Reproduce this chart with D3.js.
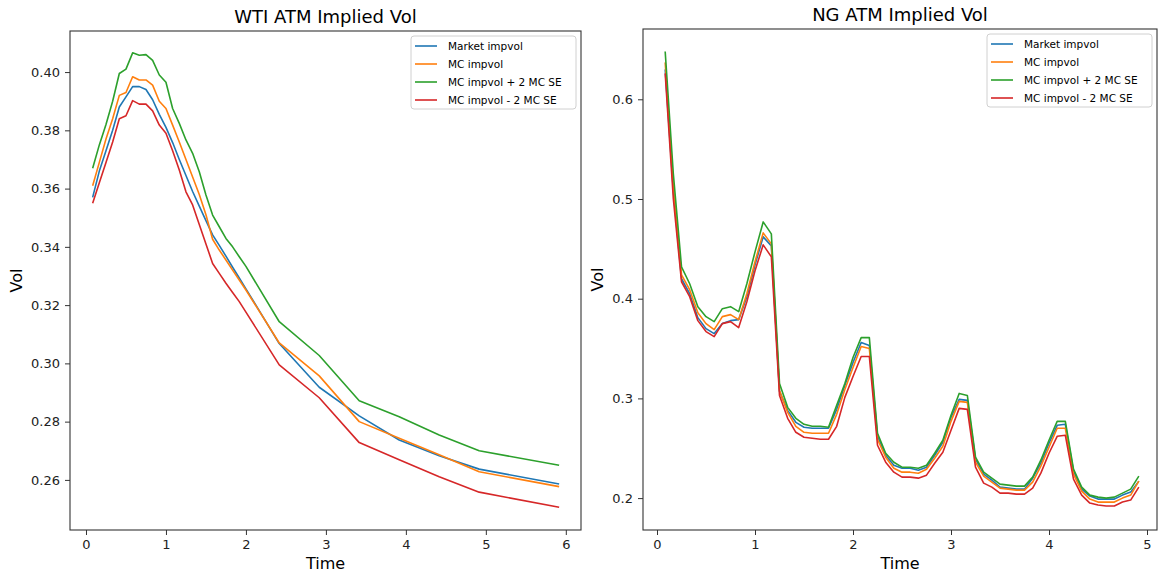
<!DOCTYPE html>
<html>
<head>
<meta charset="utf-8">
<script src="https://cdn.jsdelivr.net/npm/d3@7/dist/d3.min.js"></script>
<style>
  body { margin: 0; background: #fff; }
  svg { font-family: "DejaVu Sans", sans-serif; }
</style>
</head>
<body>
<svg id="chart" width="1159" height="577"></svg>
<script>
// series names + colours (matplotlib tab10)
var seriesNames = ["Market impvol", "MC impvol", "MC impvol + 2 MC SE", "MC impvol - 2 MC SE"];
var seriesColors = ["#1f77b4", "#ff7f0e", "#2ca02c", "#d62728"];

// WTI: monthly to 2y, then every 6 months
var wtiMonths = [1,2,3,4,5,6,7,8,9,10,11,12,13,14,15,16,17,18,19,20,21,22,23,24,29,35,41,47,53,59,71];
var wtiMarket = [0.357,0.366,0.373,0.380,0.388,0.3915,0.395,0.395,0.394,0.3905,0.3855,0.381,0.3758,0.370,0.3645,0.359,0.354,0.349,0.3441,0.3405,0.3368,0.333,0.3293,0.3256,0.3068,0.2918,0.2820,0.2737,0.2683,0.2637,0.2586];
var wtiMC = [0.361,0.369,0.377,0.384,0.392,0.393,0.3984,0.3973,0.3973,0.3955,0.390,0.3875,0.3818,0.376,0.370,0.364,0.358,0.351,0.3426,0.3389,0.3355,0.332,0.3286,0.3252,0.3070,0.2957,0.2800,0.2743,0.2686,0.2628,0.2577];
var wtiUpper = [0.367,0.375,0.382,0.390,0.3995,0.401,0.4066,0.4058,0.406,0.404,0.399,0.3965,0.3875,0.3824,0.3767,0.3721,0.3658,0.3578,0.3509,0.3469,0.3429,0.340,0.3366,0.3333,0.3143,0.3027,0.2872,0.2817,0.2754,0.2700,0.2650];
var wtiLower = [0.355,0.362,0.369,0.376,0.384,0.385,0.3902,0.389,0.389,0.3867,0.3818,0.379,0.373,0.3664,0.3589,0.3544,0.3477,0.3410,0.3343,0.3309,0.3275,0.3243,0.3212,0.3176,0.2995,0.2882,0.2728,0.2669,0.2611,0.2558,0.2506];

// NG: monthly, 1..59
var ngMonths = d3.range(1, 60);
var ngMarket = [0.630,0.508,0.420,0.405,0.381,0.370,0.365,0.375,0.378,0.379,0.402,0.434,0.462,0.453,0.307,0.288,0.276,0.271,0.270,0.270,0.270,0.289,0.313,0.336,0.356,0.353,0.262,0.243,0.233,0.230,0.230,0.228,0.231,0.243,0.256,0.281,0.299,0.298,0.239,0.224,0.218,0.211,0.210,0.209,0.209,0.220,0.235,0.255,0.273,0.274,0.227,0.209,0.202,0.199,0.199,0.199,0.203,0.206,0.217];
var ngMC = [0.637,0.512,0.424,0.409,0.386,0.375,0.369,0.382,0.384,0.379,0.405,0.437,0.466,0.455,0.308,0.286,0.272,0.266,0.265,0.265,0.265,0.284,0.309,0.331,0.352,0.350,0.259,0.241,0.230,0.226,0.226,0.225,0.229,0.240,0.252,0.277,0.297,0.296,0.236,0.222,0.216,0.210,0.209,0.208,0.208,0.216,0.232,0.251,0.270,0.270,0.224,0.207,0.199,0.196,0.196,0.196,0.200,0.203,0.217];
var ngUpper = [0.648,0.525,0.432,0.415,0.392,0.382,0.377,0.390,0.392,0.387,0.415,0.447,0.477,0.465,0.315,0.291,0.280,0.274,0.272,0.272,0.271,0.293,0.315,0.341,0.361,0.361,0.265,0.245,0.236,0.231,0.231,0.230,0.233,0.245,0.258,0.283,0.305,0.303,0.241,0.226,0.220,0.214,0.213,0.212,0.212,0.221,0.238,0.258,0.277,0.277,0.229,0.211,0.203,0.201,0.200,0.201,0.205,0.209,0.222];
var ngLower = [0.626,0.500,0.417,0.402,0.378,0.367,0.362,0.375,0.377,0.371,0.397,0.428,0.454,0.442,0.303,0.280,0.266,0.261,0.260,0.259,0.259,0.272,0.301,0.322,0.342,0.342,0.253,0.236,0.226,0.221,0.221,0.220,0.223,0.235,0.246,0.268,0.290,0.289,0.231,0.215,0.211,0.205,0.205,0.204,0.204,0.210,0.225,0.245,0.262,0.263,0.219,0.203,0.195,0.193,0.192,0.192,0.196,0.198,0.211];

var wtiTicksX = [0, 1, 2, 3, 4, 5, 6];
var wtiTicksY = [0.26, 0.28, 0.30, 0.32, 0.34, 0.36, 0.38, 0.40];
var ngTicksX = [0, 1, 2, 3, 4, 5];
var ngTicksY = [0.2, 0.3, 0.4, 0.5, 0.6];

var svg = d3.select("#chart");

function panel(opt) {
    var x = d3.scaleLinear().domain(opt.xDomain).range([opt.left, opt.right]);
    var y = d3.scaleLinear().domain(opt.yDomain).range([opt.bottom, opt.top]);
    var g = svg.append("g");

    g.append("g")
        .attr("transform", "translate(0," + opt.bottom + ")")
        .call(d3.axisBottom(x).tickValues(opt.ticksX).tickFormat(d3.format("d")).tickSize(5).tickPadding(5))
        .call(styleAxis);
    g.append("g")
        .attr("transform", "translate(" + opt.left + ",0)")
        .call(d3.axisLeft(y).tickValues(opt.ticksY).tickFormat(d3.format(opt.yFormat)).tickSize(5).tickPadding(5))
        .call(styleAxis);

    // frame (all four spines)
    g.append("rect")
        .attr("x", opt.left).attr("y", opt.top)
        .attr("width", opt.right - opt.left).attr("height", opt.bottom - opt.top)
        .attr("fill", "none").attr("stroke", "#333").attr("stroke-width", 1.1);

    var line = d3.line()
        .x(function (d) { return x(d[0]); })
        .y(function (d) { return y(d[1]); });

    opt.series.forEach(function (vals, i) {
        var pts = opt.months.map(function (m, j) { return [m / 12, vals[j]]; });
        g.append("path")
            .datum(pts)
            .attr("d", line)
            .attr("fill", "none")
            .attr("stroke", seriesColors[i])
            .attr("stroke-width", 1.6)
            .attr("stroke-linejoin", "round");
    });

    g.append("text")
        .attr("x", (opt.left + opt.right) / 2).attr("y", opt.top - 8)
        .attr("text-anchor", "middle")
        .attr("font-size", 18).attr("fill", "#000")
        .text(opt.title);
    g.append("text")
        .attr("x", (opt.left + opt.right) / 2).attr("y", 569)
        .attr("text-anchor", "middle")
        .attr("font-size", 16).attr("fill", "#000")
        .text("Time");
    g.append("text")
        .attr("transform", "translate(" + opt.ylabX + "," + ((opt.top + opt.bottom) / 2) + ") rotate(-90)")
        .attr("text-anchor", "middle")
        .attr("font-size", 16).attr("fill", "#000")
        .text("Vol");

    // legend
    var lw = 165, lh = 73;
    var lx = opt.right - 5 - lw, ly = opt.top + 5;
    var lg = g.append("g").attr("transform", "translate(" + lx + "," + ly + ")");
    lg.append("rect")
        .attr("width", lw).attr("height", lh).attr("rx", 3)
        .attr("fill", "#fff").attr("fill-opacity", 0.8)
        .attr("stroke", "#d0d0d0");
    seriesNames.forEach(function (name, i) {
        var ry = 10 + i * 18;
        lg.append("line")
            .attr("x1", 4).attr("x2", 26).attr("y1", ry).attr("y2", ry)
            .attr("stroke", seriesColors[i]).attr("stroke-width", 1.6);
        lg.append("text")
            .attr("x", 37).attr("y", ry + 4)
            .attr("font-size", 10.5).attr("fill", "#000")
            .text(name);
    });
}

function styleAxis(sel) {
    sel.select(".domain").remove();
    sel.selectAll(".tick line").attr("stroke", "#333").attr("stroke-width", 1);
    sel.selectAll(".tick text").attr("font-size", 13).attr("fill", "#222")
        .attr("font-family", "DejaVu Sans, sans-serif");
}

panel({
    title: "WTI ATM Implied Vol",
    left: 70, right: 581, top: 31, bottom: 530,
    xDomain: [-0.2, 6.19], yDomain: [0.2428, 0.4141],
    ticksX: wtiTicksX, ticksY: wtiTicksY, yFormat: ".2f",
    months: wtiMonths,
    series: [wtiMarket, wtiMC, wtiUpper, wtiLower],
    ylabX: 22
});

panel({
    title: "NG ATM Implied Vol",
    left: 643, right: 1157, top: 29, bottom: 530,
    xDomain: [-0.143, 5.102], yDomain: [0.168, 0.6705],
    ticksX: ngTicksX, ticksY: ngTicksY, yFormat: ".1f",
    months: ngMonths,
    series: [ngMarket, ngMC, ngUpper, ngLower],
    ylabX: 603
});
</script>
</body>
</html>
